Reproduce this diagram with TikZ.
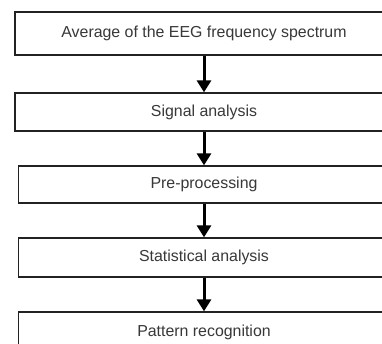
\documentclass[tikz,border=0pt]{standalone}
\usepackage{fontspec}
\setmainfont{Liberation Sans}
\usetikzlibrary{arrows.meta}
\definecolor{boxline}{HTML}{222222}
\definecolor{txt}{HTML}{383838}
\begin{document}
\begin{tikzpicture}[x=1pt,y=-1pt,
  stepbox/.style={draw=boxline,line width=1.3pt,fill=white,inner sep=0pt,
    text=txt,font=\fontsize{15.9}{18}\selectfont,anchor=center},
  flow/.style={line width=3pt,black,-{Triangle[width=14pt,length=12pt]}}]
\useasboundingbox (0,0) rectangle (382,343);
\clip (0,0) rectangle (382,343);
\node[stepbox,minimum width=378pt,minimum height=43pt] (b1) at (204,33.5) {Average of the EEG frequency spectrum};
\node[stepbox,minimum width=378pt,minimum height=38pt] (b2) at (204,112) {Signal analysis};
\node[stepbox,minimum width=371pt,minimum height=37pt] (b3) at (204,184.5) {Pre-processing};
\node[stepbox,minimum width=371pt,minimum height=39pt] (b4) at (204,257.5) {Statistical analysis};
\node[stepbox,minimum width=371pt,minimum height=40pt] (b5) at (204,332) {Pattern recognition};
\draw[flow] (b1.south) -- (b2.north);
\draw[flow] (b2.south) -- (b3.north);
\draw[flow] (b3.south) -- (b4.north);
\draw[flow] (b4.south) -- (b5.north);
\end{tikzpicture}
\end{document}
